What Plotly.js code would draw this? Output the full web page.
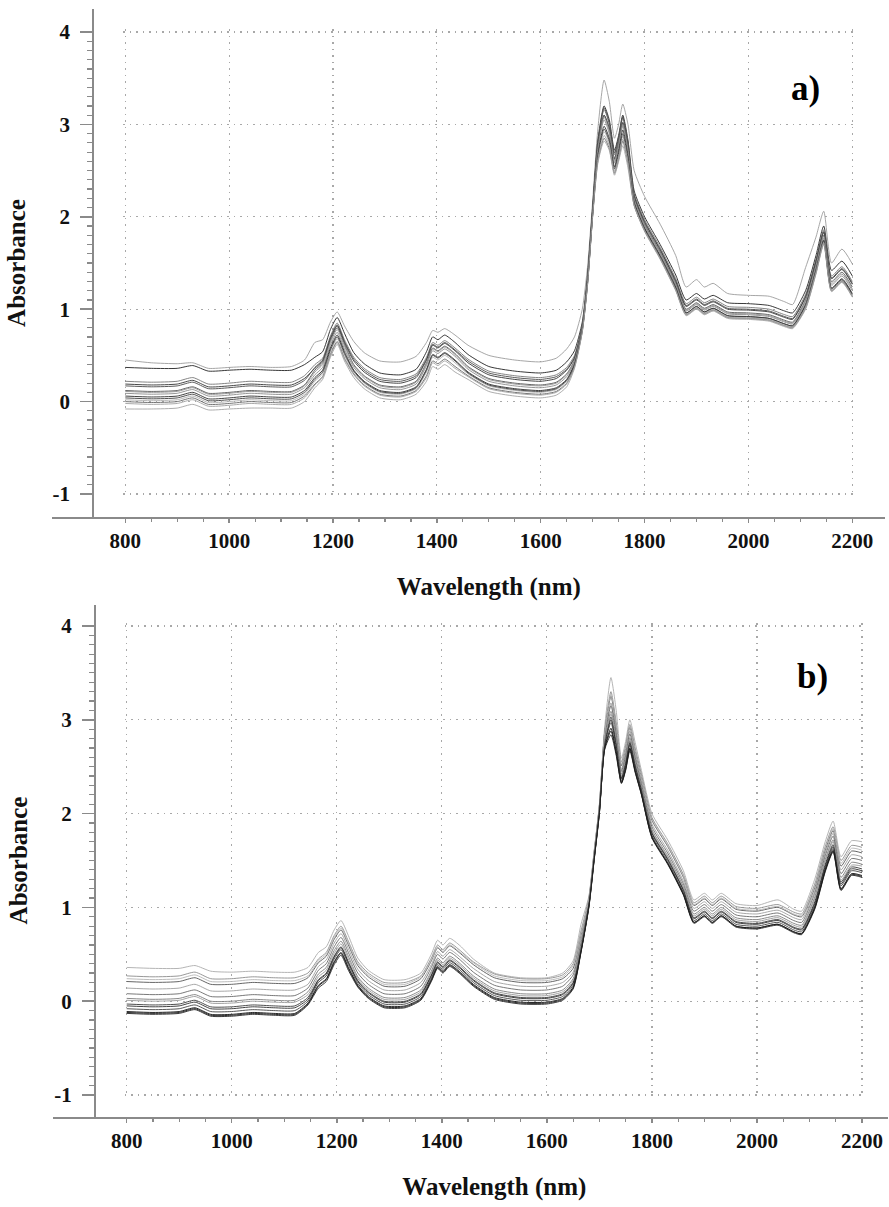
<!DOCTYPE html>
<html>
<head>
<meta charset="utf-8">
<script src="https://cdn.plot.ly/plotly-3.0.1.min.js"></script>
<style>
html,body{margin:0;padding:0;background:#fff;}
#chart{width:889px;height:1207px;}
</style>
</head>
<body>
<div id="chart"></div>
<script>
// ---------- DATA ----------
const wavelength = [800,850,900,930,960,1000,1040,1080,1120,1145,1165,1180,1195,1208,1222,1240,1260,1290,1330,1360,1380,1392,1402,1415,1435,1460,1500,1550,1600,1630,1650,1665,1680,1690,1700,1710,1722,1732,1742,1750,1758,1768,1780,1800,1830,1860,1880,1900,1915,1932,1960,2000,2040,2070,2085,2110,2130,2145,2160,2180,2200];

// panel a) spectra
const specA1 = [.45,.42,.41,.42,.36,.37,.38,.37,.38,.45,.64,.67,.86,.97,.82,.65,.53,.44,.43,.49,.64,.77,.75,.79,.72,.61,.50,.45,.43,.47,.57,.70,1.00,1.45,2.17,2.95,3.48,3.25,2.85,3.00,3.22,3.00,2.50,2.22,1.92,1.58,1.24,1.32,1.24,1.28,1.17,1.15,1.14,1.08,1.05,1.45,1.78,2.06,1.50,1.65,1.49];
const specA2 = [.37,.36,.36,.39,.33,.34,.35,.34,.34,.40,.48,.54,.78,.91,.74,.53,.41,.31,.29,.35,.54,.70,.67,.72,.64,.51,.38,.33,.31,.34,.43,.55,.86,1.36,2.11,2.83,3.20,3.05,2.72,2.88,3.10,2.83,2.28,2.00,1.70,1.37,1.10,1.17,1.11,1.15,1.07,1.06,1.04,.98,.96,1.20,1.58,1.90,1.42,1.52,1.36];
const specA3 = [.22,.21,.22,.26,.19,.20,.22,.21,.21,.28,.40,.47,.71,.85,.67,.48,.36,.26,.24,.30,.48,.64,.61,.66,.58,.46,.33,.28,.26,.29,.37,.50,.83,1.33,2.08,2.79,3.16,3.00,2.67,2.85,3.07,2.80,2.25,1.97,1.67,1.33,1.06,1.13,1.07,1.11,1.03,1.02,1.00,.94,.92,1.16,1.54,1.86,1.36,1.46,1.30];
const specA4 = [.19,.18,.19,.23,.16,.17,.19,.18,.18,.25,.36,.44,.68,.82,.64,.44,.32,.22,.20,.26,.45,.61,.58,.63,.55,.42,.29,.24,.22,.25,.34,.47,.81,1.31,2.06,2.76,3.10,2.96,2.63,2.80,3.02,2.76,2.22,1.94,1.64,1.30,1.03,1.10,1.04,1.08,1.00,.99,.97,.91,.89,1.13,1.51,1.83,1.33,1.43,1.27];
const specA5 = [.12,.11,.12,.16,.09,.10,.12,.11,.11,.18,.34,.42,.66,.80,.62,.40,.28,.18,.16,.22,.42,.58,.55,.60,.52,.38,.25,.20,.18,.21,.30,.45,.80,1.30,2.05,2.75,3.10,2.95,2.62,2.80,3.02,2.75,2.20,1.92,1.62,1.28,1.00,1.07,1.01,1.05,.97,.96,.94,.88,.86,1.10,1.48,1.80,1.30,1.40,1.24];
const specA6 = [.09,.08,.09,.13,.06,.07,.09,.08,.08,.15,.29,.37,.61,.75,.57,.37,.25,.15,.13,.19,.39,.55,.52,.57,.49,.35,.22,.17,.15,.18,.27,.43,.79,1.29,2.04,2.72,3.05,2.90,2.58,2.76,2.98,2.71,2.18,1.90,1.60,1.26,.98,1.05,.99,1.03,.95,.94,.92,.86,.84,1.07,1.45,1.77,1.26,1.36,1.20];
const specA7 = [.06,.05,.06,.10,.03,.04,.06,.05,.05,.12,.26,.34,.58,.72,.54,.34,.22,.12,.10,.16,.35,.51,.48,.53,.45,.32,.19,.14,.12,.15,.24,.41,.78,1.28,2.03,2.68,2.98,2.85,2.54,2.72,2.94,2.67,2.16,1.88,1.58,1.24,.96,1.03,.97,1.01,.93,.92,.90,.84,.82,1.05,1.43,1.75,1.23,1.33,1.17];
const specA8 = [.02,.01,.02,.06,-.01,.00,.02,.01,.01,.08,.22,.30,.54,.68,.50,.32,.20,.10,.08,.14,.32,.48,.45,.50,.42,.30,.17,.12,.10,.13,.22,.39,.77,1.27,2.02,2.65,2.92,2.80,2.50,2.66,2.87,2.62,2.13,1.86,1.56,1.22,.95,1.02,.96,1.00,.92,.91,.89,.83,.81,1.03,1.41,1.73,1.21,1.31,1.15];
const specA9 = [.00,-.01,.00,.04,-.03,-.02,.00,-.01,-.01,.06,.19,.27,.51,.65,.47,.30,.18,.08,.06,.12,.28,.44,.41,.46,.38,.28,.15,.10,.08,.11,.20,.38,.76,1.26,2.01,2.60,2.85,2.74,2.47,2.62,2.82,2.58,2.12,1.85,1.55,1.21,.94,1.01,.95,.99,.91,.90,.88,.82,.80,1.01,1.39,1.71,1.20,1.30,1.14];
const specA10 = [-.08,-.08,-.07,-.03,-.09,-.08,-.07,-.07,-.07,.00,.15,.24,.48,.62,.44,.26,.14,.04,.02,.08,.22,.38,.35,.40,.32,.24,.11,.06,.04,.07,.16,.36,.75,1.25,2.00,2.58,2.82,2.72,2.45,2.60,2.77,2.53,2.12,1.84,1.54,1.20,.93,1.00,.94,.98,.90,.89,.87,.81,.79,1.00,1.38,1.70,1.19,1.29,1.13];
const specA11 = [.17,.16,.17,.21,.14,.15,.17,.16,.16,.23,.37,.45,.69,.83,.65,.46,.34,.24,.22,.28,.46,.62,.59,.64,.56,.44,.31,.26,.24,.27,.35,.48,.82,1.32,2.07,2.80,3.18,3.02,2.69,2.86,3.08,2.80,2.23,1.95,1.65,1.31,1.04,1.11,1.05,1.09,1.01,1.00,.98,.92,.90,1.14,1.52,1.84,1.34,1.44,1.28];
const specA12 = [.11,.10,.11,.15,.08,.09,.11,.10,.10,.17,.32,.40,.64,.78,.60,.39,.27,.17,.15,.21,.41,.57,.54,.59,.51,.37,.24,.19,.17,.20,.29,.44,.80,1.30,2.05,2.74,3.08,2.93,2.60,2.78,3.00,2.73,2.19,1.91,1.61,1.27,.99,1.06,1.00,1.04,.96,.95,.93,.87,.85,1.09,1.47,1.79,1.28,1.38,1.22];
const specA13 = [.04,.03,.04,.08,.01,.02,.04,.03,.03,.10,.24,.32,.56,.70,.52,.33,.21,.11,.09,.15,.34,.50,.47,.52,.44,.31,.18,.13,.11,.14,.23,.40,.78,1.28,2.03,2.66,2.95,2.82,2.52,2.69,2.90,2.64,2.15,1.87,1.57,1.23,.96,1.03,.97,1.01,.93,.92,.90,.84,.82,1.04,1.42,1.74,1.22,1.32,1.16];
const specA14 = [-.02,-.03,-.02,.02,-.05,-.04,-.02,-.03,-.03,.04,.18,.26,.50,.64,.46,.29,.17,.07,.05,.11,.26,.42,.39,.44,.36,.27,.14,.09,.07,.10,.19,.37,.76,1.26,2.01,2.62,2.88,2.77,2.48,2.64,2.84,2.59,2.13,1.85,1.55,1.21,.94,1.01,.95,.99,.91,.90,.88,.82,.80,1.02,1.40,1.72,1.20,1.30,1.14];

// panel b) spectra
const specB1 = [.36,.35,.35,.38,.32,.31,.32,.31,.31,.36,.52,.58,.76,.86,.70,.46,.33,.23,.23,.30,.50,.65,.60,.67,.59,.45,.30,.25,.25,.30,.43,.82,1.12,1.60,2.10,2.92,3.45,3.10,2.59,2.77,3.00,2.76,2.46,2.00,1.72,1.39,1.08,1.15,1.08,1.15,1.04,1.02,1.08,.98,.96,1.30,1.70,1.92,1.54,1.71,1.70];
const specB2 = [.27,.26,.27,.31,.24,.24,.26,.25,.25,.30,.45,.52,.70,.80,.64,.42,.30,.20,.20,.27,.46,.60,.55,.62,.54,.42,.29,.24,.24,.28,.40,.75,1.10,1.59,2.09,2.87,3.30,2.97,2.55,2.72,2.95,2.70,2.42,1.96,1.68,1.35,1.05,1.12,1.05,1.12,1.01,.99,1.03,.95,.93,1.25,1.65,1.86,1.50,1.66,1.64];
const specB3 = [.21,.20,.21,.25,.18,.18,.20,.19,.19,.25,.41,.48,.66,.76,.60,.38,.26,.16,.16,.24,.43,.57,.52,.59,.51,.39,.25,.20,.20,.24,.35,.70,1.08,1.58,2.08,2.86,3.25,2.93,2.51,2.69,2.92,2.67,2.39,1.93,1.65,1.32,1.02,1.09,1.02,1.09,.98,.96,1.00,.92,.90,1.21,1.61,1.82,1.44,1.60,1.58];
const specB4 = [.14,.13,.14,.18,.11,.11,.13,.12,.12,.18,.37,.44,.62,.72,.56,.34,.22,.12,.12,.20,.39,.53,.48,.55,.47,.35,.21,.16,.16,.20,.31,.66,1.06,1.56,2.06,2.82,3.18,2.88,2.47,2.65,2.88,2.63,2.35,1.89,1.61,1.28,.99,1.06,.99,1.06,.95,.93,.97,.89,.87,1.18,1.58,1.79,1.40,1.56,1.54];
const specB5 = [.08,.07,.08,.12,.05,.05,.07,.06,.06,.14,.33,.40,.58,.68,.52,.30,.18,.08,.08,.16,.36,.50,.45,.52,.44,.31,.17,.12,.12,.16,.28,.62,1.05,1.55,2.05,2.80,3.15,2.85,2.45,2.62,2.85,2.60,2.32,1.86,1.58,1.25,.96,1.03,.96,1.03,.92,.90,.94,.86,.84,1.15,1.55,1.76,1.36,1.52,1.50];
const specB6 = [.03,.02,.03,.07,.00,.00,.02,.01,.01,.10,.29,.36,.54,.64,.48,.26,.14,.04,.04,.12,.32,.46,.41,.48,.40,.27,.13,.08,.08,.12,.24,.59,1.04,1.54,2.04,2.77,3.09,2.81,2.42,2.59,2.81,2.57,2.29,1.83,1.55,1.22,.93,1.00,.93,1.00,.89,.87,.91,.83,.81,1.11,1.51,1.72,1.32,1.48,1.46];
const specB7 = [-.03,-.04,-.03,.01,-.06,-.06,-.04,-.05,-.05,.04,.23,.30,.48,.58,.42,.22,.10,.00,.00,.08,.28,.42,.37,.44,.36,.23,.09,.04,.04,.08,.20,.56,1.03,1.53,2.03,2.74,3.03,2.76,2.38,2.55,2.77,2.53,2.26,1.80,1.52,1.19,.89,.96,.89,.96,.85,.83,.87,.79,.77,1.06,1.46,1.67,1.27,1.43,1.41];
const specB8 = [-.08,-.09,-.08,-.04,-.11,-.11,-.09,-.10,-.10,.00,.20,.27,.45,.55,.39,.19,.07,-.03,-.03,.05,.25,.39,.34,.41,.33,.20,.06,.01,.01,.05,.17,.54,1.02,1.52,2.02,2.72,2.97,2.71,2.35,2.51,2.73,2.49,2.23,1.77,1.49,1.16,.86,.93,.86,.93,.82,.80,.84,.76,.74,1.02,1.42,1.63,1.23,1.39,1.37];
const specB9 = [-.11,-.12,-.11,-.07,-.14,-.14,-.12,-.13,-.13,-.02,.17,.24,.42,.52,.36,.17,.05,-.05,-.05,.03,.23,.37,.32,.39,.31,.18,.04,-.01,-.01,.03,.15,.53,1.01,1.51,2.01,2.70,2.91,2.66,2.33,2.48,2.70,2.46,2.21,1.75,1.47,1.14,.84,.91,.84,.91,.80,.78,.82,.74,.72,1.00,1.40,1.61,1.20,1.36,1.34];
const specB10 = [-.13,-.14,-.13,-.09,-.16,-.16,-.14,-.15,-.15,-.04,.14,.21,.39,.49,.33,.15,.03,-.07,-.07,.01,.21,.35,.30,.37,.29,.16,.02,-.03,-.03,.01,.13,.52,1.00,1.50,2.00,2.68,2.84,2.62,2.32,2.46,2.67,2.44,2.20,1.74,1.46,1.13,.83,.90,.83,.90,.79,.77,.81,.73,.71,.98,1.38,1.59,1.18,1.34,1.32];
const specB11 = [.24,.23,.24,.28,.21,.21,.23,.22,.22,.27,.43,.50,.68,.78,.62,.40,.28,.18,.18,.26,.44,.58,.53,.60,.52,.41,.27,.22,.22,.26,.38,.72,1.09,1.59,2.08,2.86,3.27,2.95,2.53,2.70,2.93,2.68,2.40,1.94,1.66,1.33,1.03,1.10,1.03,1.10,.99,.97,1.01,.93,.91,1.23,1.63,1.84,1.47,1.63,1.61];
const specB12 = [.01,.00,.01,.05,-.02,-.02,.00,-.01,-.01,.07,.26,.33,.51,.61,.45,.24,.12,.02,.02,.10,.30,.44,.39,.46,.38,.25,.11,.06,.06,.10,.22,.57,1.03,1.53,2.03,2.75,3.06,2.78,2.40,2.57,2.79,2.55,2.27,1.81,1.53,1.20,.91,.98,.91,.98,.87,.85,.89,.81,.79,1.09,1.49,1.70,1.29,1.45,1.44];
const specB13 = [-.05,-.06,-.05,-.01,-.08,-.08,-.06,-.07,-.07,.02,.22,.29,.47,.57,.41,.21,.09,-.01,-.01,.07,.27,.41,.36,.43,.35,.22,.08,.03,.03,.07,.19,.55,1.03,1.53,2.03,2.73,3.00,2.73,2.37,2.53,2.75,2.51,2.25,1.79,1.51,1.18,.88,.95,.88,.95,.84,.82,.86,.78,.76,1.04,1.44,1.65,1.25,1.41,1.39];
const specB14 = [-.12,-.13,-.12,-.08,-.15,-.15,-.13,-.14,-.14,-.03,.16,.23,.41,.51,.35,.16,.04,-.06,-.06,.02,.22,.36,.31,.38,.30,.17,.03,-.02,-.02,.02,.14,.53,1.01,1.51,2.01,2.69,2.88,2.64,2.33,2.47,2.69,2.45,2.21,1.75,1.47,1.14,.84,.91,.84,.91,.80,.78,.82,.74,.72,.99,1.39,1.60,1.19,1.35,1.33];

const xTickVals = [800,1000,1200,1400,1600,1800,2000,2200];
const yTickVals = [-1,0,1,2,3,4];
const yTickText = ['-1','0','1','2','3','4'];
const xTitle = 'Wavelength (nm)';
const yTitle = 'Absorbance';
const panelLabels = ['a)','b)'];

// ---------- STYLE ----------
const serif = '"Liberation Serif", "Times New Roman", serif';
const colorsA = ['#9c9c9c','#222222','#777777','#333333','#555555','#8a8a8a','#2c2c2c','#b0b0b0','#666666','#a4a4a4','#4a4a4a','#909090','#3c3c3c','#a0a0a0'];
const colorsB = ['#ababab','#8c8c8c','#555555','#9e9e9e','#6a6a6a','#7c7c7c','#3a3a3a','#444444','#111111','#262626','#b4b4b4','#999999','#2e2e2e','#1a1a1a'];
const axisGray = '#8a8a8a';
const tickFont = {family: serif, size: 21, color: '#111', weight: 'bold'};
const titleFont = {family: serif, size: 25, color: '#111', weight: 'bold'};

const specA = [specA1,specA2,specA3,specA4,specA5,specA6,specA7,specA8,specA9,specA10,specA11,specA12,specA13,specA14];
const specB = [specB1,specB2,specB3,specB4,specB5,specB6,specB7,specB8,specB9,specB10,specB11,specB12,specB13,specB14];

const traces = [
  // empty traces so the outer (axis-line) subplots are created
  {x: [], y: [], xaxis: 'x', yaxis: 'y', type: 'scatter', mode: 'lines', showlegend: false, hoverinfo: 'skip'},
  {x: [], y: [], xaxis: 'x3', yaxis: 'y3', type: 'scatter', mode: 'lines', showlegend: false, hoverinfo: 'skip'}
];
specA.forEach((s, i) => traces.push({x: wavelength, y: s, xaxis: 'x2', yaxis: 'y2', type: 'scatter', mode: 'lines',
  line: {color: colorsA[i], width: 0.9, shape: 'spline', smoothing: 0.6}, hoverinfo: 'skip', showlegend: false}));
specB.forEach((s, i) => traces.push({x: wavelength, y: s, xaxis: 'x4', yaxis: 'y4', type: 'scatter', mode: 'lines',
  line: {color: colorsB[i], width: 0.9, shape: 'spline', smoothing: 0.6}, hoverinfo: 'skip', showlegend: false}));

const W = 889, H = 1207;
function px(x) { return x / W; }
function py(y) { return 1 - y / H; }

// panel pixel geometry: position of 800 nm / 2200 nm and of absorbance 4 / -1
const geomA = {x800: 125.3, x2200: 852.3, y4: 32, yM1: 494, axisX: 93.3, axisY: 516.7, left: 52, right: 885, top: 9};
const geomB = {x800: 126.7, x2200: 862, y4: 626, yM1: 1095, axisX: 95, axisY: 1117, left: 53, right: 888, top: 605};
const padX = [796, 2204], padY = [-1.03, 4.03];

function outerX(g, anchor) {
  const k = (g.x2200 - g.x800) / 1400;
  const range = [800 + (g.left - g.x800) / k, 2200 + (g.right - g.x2200) / k];
  return {domain: [px(g.left), px(g.right)], range, anchor, showline: true, linecolor: axisGray, linewidth: 2, ticks: '',
    showticklabels: false, showgrid: false, zeroline: false, fixedrange: true};
}
function outerY(g) {
  const k = (g.yM1 - g.y4) / 5;
  const range = [-1 - (g.axisY - g.yM1) / k, 4 + (g.y4 - g.top) / k];
  return {domain: [py(g.axisY), py(g.top)], range, anchor: 'free', position: px(g.axisX), showline: true, linecolor: axisGray, linewidth: 2, ticks: '',
    showticklabels: false, showgrid: false, zeroline: false, fixedrange: true};
}
function innerX(g) {
  const k = (g.x2200 - g.x800) / 1400;
  const d0 = g.x800 + (padX[0] - 800) * k, d1 = g.x800 + (padX[1] - 800) * k;
  return {domain: [px(d0), px(d1)], range: padX, anchor: 'free', position: py(g.axisY), showline: false,
    tickmode: 'array', tickvals: xTickVals, ticks: 'outside', ticklen: 5, tickwidth: 1.5, tickcolor: axisGray,
    minor: {tickmode: 'linear', tick0: 800, dtick: 50, ticks: 'outside', ticklen: 4, tickwidth: 1.2, tickcolor: axisGray, showgrid: false},
    tickfont: tickFont, showgrid: true, gridcolor: '#a8a8a8', gridwidth: 1.2, griddash: '1.5px,5px',
    zeroline: false, automargin: false,
    title: {text: xTitle, font: titleFont, standoff: 25}};
}
function innerY(g) {
  const k = (g.yM1 - g.y4) / 5;
  const d0 = g.yM1 - (padY[0] + 1) * k, d1 = g.y4 - (padY[1] - 4) * k;
  return {domain: [py(d0), py(d1)], range: padY, anchor: 'free', position: px(g.axisX), showline: false,
    tickmode: 'array', tickvals: yTickVals, ticktext: yTickText, ticks: 'outside', ticklen: 13, tickwidth: 1.5, tickcolor: axisGray,
    minor: {tickmode: 'linear', tick0: 0, dtick: 0.1, ticks: 'outside', ticklen: 6, tickwidth: 1.2, tickcolor: axisGray, showgrid: false},
    tickfont: tickFont, ticklabelstandoff: 6, showgrid: true, gridcolor: '#a8a8a8', gridwidth: 1.2, griddash: '1.5px,5px',
    zeroline: false, automargin: false,
    title: {text: yTitle, font: titleFont, standoff: 18}};
}

const labelFont = {family: serif, size: 35, color: '#000', weight: 'bold'};
const layout = {
  width: W, height: H,
  margin: {l: 0, r: 0, t: 0, b: 0},
  paper_bgcolor: '#fff', plot_bgcolor: 'rgba(0,0,0,0)',
  showlegend: false,
  xaxis: outerX(geomA, 'y'),
  yaxis: outerY(geomA),
  xaxis2: innerX(geomA),
  yaxis2: innerY(geomA),
  xaxis3: outerX(geomB, 'y3'),
  yaxis3: outerY(geomB),
  xaxis4: innerX(geomB),
  yaxis4: innerY(geomB),
  annotations: [
    {xref: 'x2', yref: 'y2', x: 2109, y: 3.39, text: panelLabels[0], showarrow: false, font: labelFont},
    {xref: 'x4', yref: 'y4', x: 2105, y: 3.46, text: panelLabels[1], showarrow: false, font: labelFont}
  ]
};

Plotly.newPlot('chart', traces, layout, {displayModeBar: false, staticPlot: true});
</script>
</body>
</html>
